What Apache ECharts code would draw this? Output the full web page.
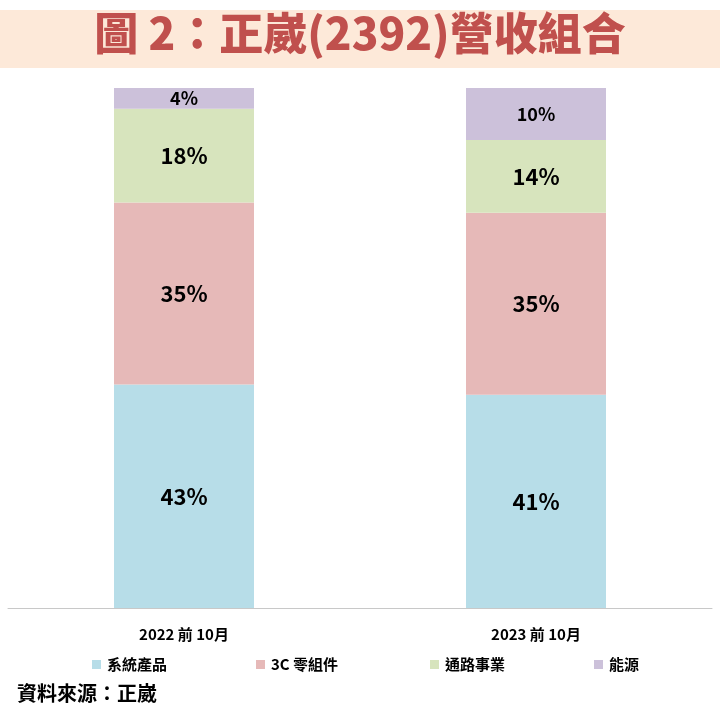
<!DOCTYPE html>
<html>
<head>
<meta charset="utf-8">
<script src="https://cdn.jsdelivr.net/npm/echarts@6/dist/echarts.min.js"></script>
<style>
html, body { margin: 0; padding: 0; background: #fff; }
#main { width: 720px; height: 720px; }
</style>
</head>
<body>
<div id="main"></div>
<script>
var categories = ['2022 前 10月', '2023 前 10月'];
var seriesNames = ['系統產品', '3C 零組件', '通路事業', '能源'];
var systemProducts = [43, 41];
var components3C = [35, 35];
var channel = [18, 14];
var energy = [4, 10];
var colors = ['#b7dde8', '#e6b9b8', '#d7e4bd', '#ccc1da'];
var legendLefts = [92, 256, 430, 594];

var font = '"Noto Sans CJK TC", "Noto Sans", sans-serif';

var myChart = echarts.init(document.getElementById('main'));

var makeSeries = function (name, data, color, small) {
    return {
        name: name,
        type: 'bar',
        stack: 'total',
        barWidth: 140,
        data: data,
        itemStyle: { color: color },
        label: {
            show: true,
            position: 'inside',
            formatter: '{c}%',
            color: '#000',
            fontFamily: font,
            fontWeight: 'bold',
            fontSize: small ? 18 : 22
        }
    };
};

// one legend per item so spacing matches the original
var legends = [];
for (var i = 0; i < seriesNames.length; i++) {
    legends.push({
        data: [seriesNames[i]],
        left: legendLefts[i],
        top: 657,
        padding: 0,
        itemWidth: 9,
        itemHeight: 9,
        itemGap: 0,
        icon: 'rect',
        textStyle: { fontFamily: font, fontWeight: 'bold', fontSize: 15, color: '#000', padding: [0, 0, 0, 1] }
    });
}

var option = {
    backgroundColor: '#fff',
    animation: false,
    graphic: [
        {
            type: 'rect',
            shape: { x: 0, y: 10, width: 720, height: 58 },
            style: { fill: '#fde9d9' }
        },
        {
            type: 'text',
            left: 'center',
            top: 11,
            style: {
                text: '圖 2：正崴(2392)營收組合',
                fill: '#c0504d',
                font: '900 44px ' + font
            }
        },
        {
            type: 'text',
            left: 17,
            top: 683,
            style: {
                text: '資料來源：正崴',
                fill: '#000',
                font: 'bold 20px ' + font
            }
        }
    ],
    legend: legends,
    grid: { left: 8, right: 8, top: 88, bottom: 112 },
    xAxis: [
        {
            type: 'category',
            data: categories,
            axisLine: { lineStyle: { color: '#c8c8c8' } },
            axisTick: { length: 6, lineStyle: { color: '#c8c8c8' } },
            axisLabel: {
                margin: 19,
                color: '#000',
                fontFamily: font,
                fontWeight: 'bold',
                fontSize: 15
            }
        }
    ],
    yAxis: [
        {
            type: 'value',
            min: 0,
            max: 100,
            show: false,
            splitLine: { show: false }
        }
    ],
    series: [
        makeSeries(seriesNames[0], systemProducts, colors[0], false),
        makeSeries(seriesNames[1], components3C, colors[1], false),
        makeSeries(seriesNames[2], channel, colors[2], false),
        makeSeries(seriesNames[3], energy, colors[3], true)
    ]
};

myChart.setOption(option);
</script>
</body>
</html>
